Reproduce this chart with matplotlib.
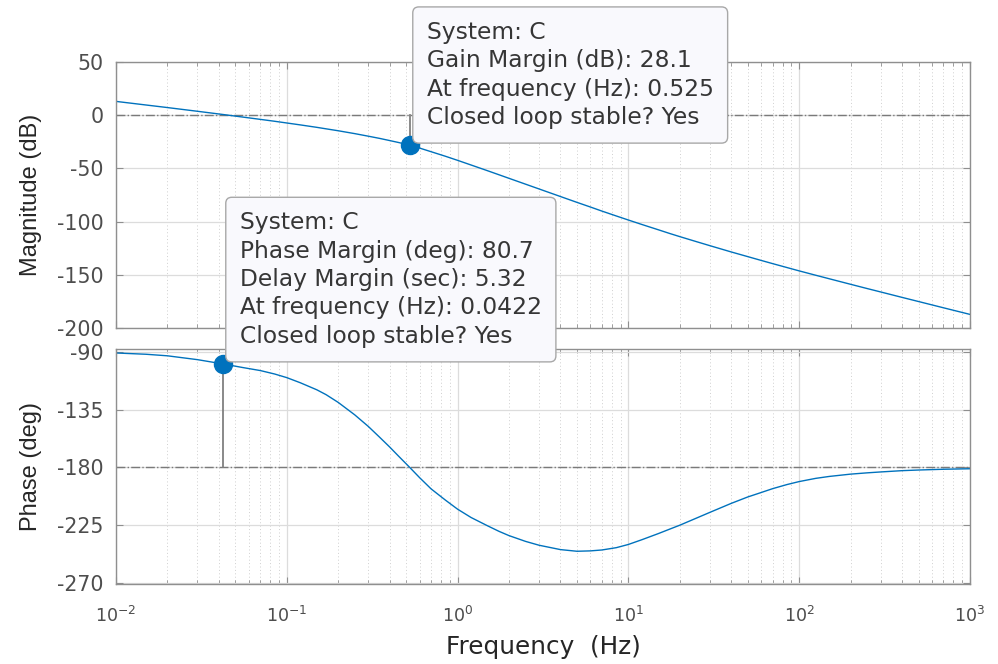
import matplotlib
matplotlib.use("Agg")
import matplotlib.pyplot as plt
from matplotlib.ticker import FixedLocator, LogLocator, NullFormatter


# Frequency response of system C (Hz, dB, deg)
freq = [0.01, 0.015, 0.02, 0.03, 0.0422, 0.055, 0.07, 0.085, 0.1, 0.12,
        0.15, 0.17, 0.2, 0.25, 0.3, 0.35, 0.4, 0.45, 0.525, 0.6, 0.7, 0.85,
        1, 1.2, 1.5, 1.75, 2, 2.5, 3, 4, 5, 6, 7, 8.5,
        10, 12, 15, 17.5, 20, 25, 30, 40, 50, 60, 70, 85,
        100, 125, 150, 200, 250, 300, 400, 500, 700, 1000]

mag_db = [13.0, 9.6, 7.2, 3.7, 0.7, -1.7, -3.9, -5.7, -7.3, -9.1,
          -11.4, -12.8, -14.6, -17.3, -19.7, -21.8, -23.8, -25.6, -28.1,
          -30.9, -34.3, -38.6,
          -42.4, -46.8, -52.2, -56.0, -59.3, -64.8, -69.3, -76.4, -81.9,
          -86.3, -90.1, -94.7,
          -98.5, -102.7, -107.7, -111.2, -114.1, -118.8, -122.6, -128.5,
          -132.9, -136.5, -139.5, -143.2,
          -146.3, -150.4, -153.7, -158.9, -162.9, -166.1, -171.2, -175.1,
          -181.0, -187.2]

phase_deg = [-90.8, -91.8, -93.0, -96.0, -99.3, -102.1, -104.5, -107.2,
             -110.0, -114.0, -119.5, -123.3, -129.3, -139.0, -148.0, -156.5,
             -164.0, -171.0, -180.0, -188.0, -196.7, -205.5,
             -212.5, -219.0, -225.5, -229.8, -233.1, -237.6, -240.6, -244.0,
             -245.3, -245.0, -244.3, -242.5,
             -240.0, -236.3, -231.5, -228.0, -225.0, -219.5, -215.0, -208.0,
             -203.0, -199.5, -196.5, -193.3,
             -191.0, -188.5, -187.0, -185.2, -184.2, -183.5, -182.5, -182.0,
             -181.4, -181.0]

# Stability margins
gm_db = 28.1
gm_freq = 0.525
pm_deg = 80.7
dm_sec = 5.32
pm_freq = 0.0422

mag_ticks = [-200, -150, -100, -50, 0, 50]
phase_ticks = [-270, -225, -180, -135, -90]
freq_ticks = [1e-2, 1e-1, 1e0, 1e1, 1e2, 1e3]
freq_labels = ["$10^{-2}$", "$10^{-1}$", "$10^{0}$", "$10^{1}$",
               "$10^{2}$", "$10^{3}$"]

gain_tip = [
    "System: C",
    f"Gain Margin (dB): {gm_db}",
    f"At frequency (Hz): {gm_freq}",
    "Closed loop stable? Yes",
]
phase_tip = [
    "System: C",
    f"Phase Margin (deg): {pm_deg}",
    f"Delay Margin (sec): {dm_sec}",
    f"At frequency (Hz): {pm_freq}",
    "Closed loop stable? Yes",
]


LINE = "#0072BD"
SPINE = "#8f8f8f"
TICKTXT = "#4d4d4d"

plt.rcParams["font.family"] = "DejaVu Sans"
plt.rcParams["mathtext.fontset"] = "dejavusans"

fig = plt.figure(figsize=(9.98, 6.64), dpi=100)

ax_mag = fig.add_axes([0.1162, 0.5060, 0.8557, 0.4006])
ax_ph = fig.add_axes([0.1162, 0.1205, 0.8557, 0.3539])
ax_mag.set_zorder(1)
ax_ph.set_zorder(2)


def style_axes(ax):
    ax.set_xscale("log")
    ax.set_xlim(1e-2, 1e3)
    ax.set_axisbelow(True)
    for side in ax.spines.values():
        side.set_color(SPINE)
        side.set_linewidth(1.0)
    ax.xaxis.set_major_locator(FixedLocator(freq_ticks))
    ax.xaxis.set_minor_locator(LogLocator(base=10, subs=range(2, 10)))
    ax.xaxis.set_minor_formatter(NullFormatter())
    ax.tick_params(which="both", direction="in", top=True, right=True,
                   color=SPINE, labelcolor=TICKTXT)
    ax.tick_params(which="major", length=5)
    ax.tick_params(which="minor", length=3)
    ax.tick_params(axis="y", labelsize=14.8, pad=9)
    ax.grid(True, which="major", color="#dcdcdc", linewidth=0.9)
    ax.grid(True, which="minor", axis="x", color="#cfcfcf",
            linewidth=0.7, linestyle=(0, (1, 2.5)))


# Magnitude
style_axes(ax_mag)
ax_mag.set_ylim(-200, 50)
ax_mag.set_yticks(mag_ticks)
ax_mag.set_yticklabels([f"{t}" for t in mag_ticks])
ax_mag.tick_params(axis="x", labelbottom=False)
ax_mag.axhline(0, color="#7a7a7a", linewidth=1.0, linestyle="-.")
ax_mag.plot(freq, mag_db, color=LINE, linewidth=1.0)
ax_mag.plot([gm_freq, gm_freq], [-gm_db, 0], color="#808080", linewidth=1.3)
ax_mag.plot(gm_freq, -gm_db, "o", color=LINE, markersize=13, zorder=5)
ax_mag.set_ylabel("Magnitude (dB)", family="Liberation Sans", fontsize=17,
                  color="#262626")
ax_mag.yaxis.set_label_coords(-0.087, 0.5)

# Phase
style_axes(ax_ph)
ax_ph.set_ylim(-270.8, -87.7)
ax_ph.set_yticks(phase_ticks)
ax_ph.set_yticklabels([f"{t}" for t in phase_ticks])
ax_ph.set_xticklabels(freq_labels)
ax_ph.tick_params(axis="x", labelsize=12.6, pad=16)
ax_ph.axhline(-180, color="#7a7a7a", linewidth=1.0, linestyle="-.")
ax_ph.plot(freq, phase_deg, color=LINE, linewidth=1.0)
ax_ph.plot([pm_freq, pm_freq], [-180 + pm_deg, -180], color="#808080",
           linewidth=1.3)
ax_ph.plot(pm_freq, -180 + pm_deg, "o", color=LINE, markersize=13, zorder=5)
ax_ph.set_ylabel("Phase (deg)", family="Liberation Sans", fontsize=17,
                 color="#262626")
ax_ph.yaxis.set_label_coords(-0.087, 0.5)
ax_ph.set_xlabel("Frequency  (Hz)", fontsize=17.8, color="#262626")
ax_ph.xaxis.set_label_coords(0.5, -0.215)

# Data tips
tip_box = dict(boxstyle="round,pad=0.6,rounding_size=0.26", fc="#f9f9fd",
               ec="#a8a8a8", lw=1.0)
ax_mag.annotate("\n".join(gain_tip), xy=(gm_freq, -gm_db), xytext=(17, 16),
                textcoords="offset pixels", ha="left", va="bottom",
                fontsize=16.8, color="#363636", linespacing=1.3,
                bbox=tip_box, annotation_clip=False, zorder=10)
ax_ph.annotate("\n".join(phase_tip), xy=(pm_freq, -180 + pm_deg),
               xytext=(17, 16), textcoords="offset pixels", ha="left",
               va="bottom", fontsize=16.8, color="#363636", linespacing=1.3,
               bbox=tip_box, annotation_clip=False, zorder=10)

fig.savefig("out.png", dpi=100)
